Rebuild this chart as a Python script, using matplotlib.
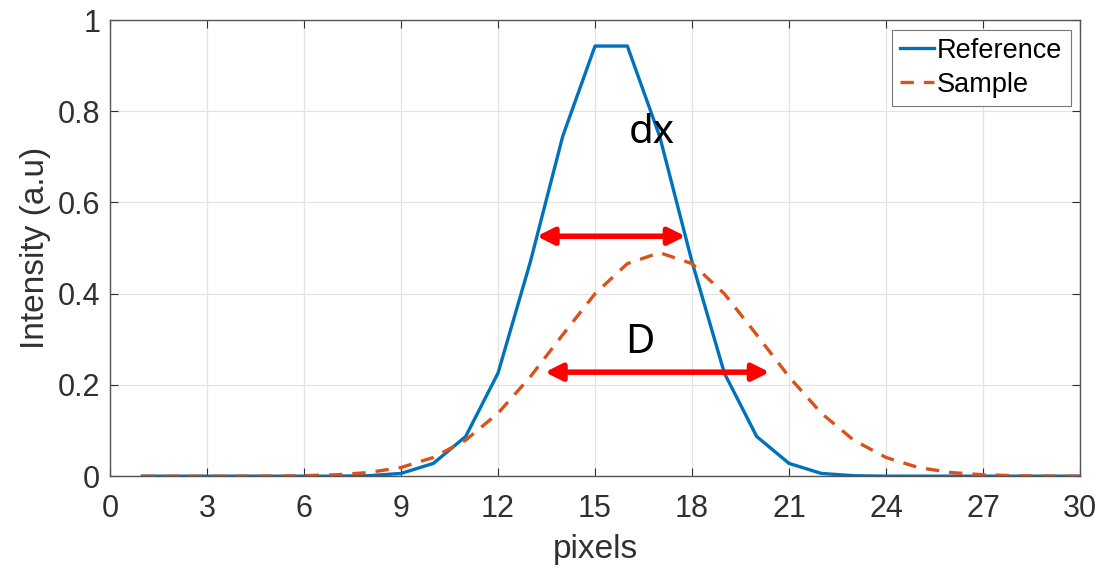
import matplotlib
matplotlib.use('Agg')
import matplotlib.pyplot as plt
from matplotlib.ticker import FormatStrFormatter

# pixel positions
pixels = list(range(1, 31))

# reference profile (narrow)
reference = [0.0, 0.0, 0.0, 0.0, 0.0, 0.0, 0.0, 0.001, 0.006, 0.028,
             0.087, 0.226, 0.47, 0.745, 0.943, 0.943, 0.745, 0.47, 0.226, 0.087,
             0.028, 0.006, 0.001, 0.0, 0.0, 0.0, 0.0, 0.0, 0.0, 0.0]

# sample profile (broadened, shifted)
sample = [0.0, 0.0, 0.0, 0.0, 0.0003, 0.0011, 0.003, 0.008, 0.019, 0.041,
          0.079, 0.138, 0.218, 0.31, 0.40, 0.466, 0.49, 0.466, 0.40, 0.31,
          0.218, 0.138, 0.079, 0.041, 0.019, 0.008, 0.003, 0.0011, 0.0003, 0.0]

xticks = list(range(0, 31, 3))
yticks = [0, 0.2, 0.4, 0.6, 0.8, 1.0]

# width markers (data coords)
dx_span = (13.2, 17.8, 0.526)
D_span = (13.45, 20.4, 0.228)

plt.rcParams['font.family'] = ['Liberation Sans', 'DejaVu Sans']

fig = plt.figure(figsize=(11.15, 5.73), dpi=100)
ax = fig.add_axes([0.0987, 0.169, 0.8699, 0.796])

ax.plot(pixels, reference, '-', color='#0072BD', lw=2.4, label='Reference')
ax.plot(pixels, sample, '--', color='#D95319', lw=2.4, dashes=(4, 3), label='Sample')

ax.set_xlim(0, 30)
ax.set_ylim(0, 1)
ax.set_xticks(xticks)
ax.set_yticks(yticks)
ax.yaxis.set_major_formatter(FormatStrFormatter('%g'))
ax.grid(True, color='#e3e3e3', lw=0.9)
ax.set_axisbelow(True)
ax.tick_params(direction='in', length=6, top=True, right=True,
               labelsize=22, colors='#303030')
ax.tick_params(axis='x', pad=13)
ax.tick_params(axis='y', pad=7)
for s in ax.spines.values():
    s.set_color('#555555')
    s.set_linewidth(1.0)

ax.set_xlabel('pixels', fontsize=24, color='#303030', labelpad=7)
ax.set_ylabel('Intensity (a.u)', fontsize=24, color='#303030', labelpad=5)

# arrows and labels
arrow = dict(arrowstyle='<|-|>', color='red', lw=4, mutation_scale=25,
             shrinkA=0, shrinkB=0)
ax.annotate('', xy=(dx_span[0], dx_span[2]), xytext=(dx_span[1], dx_span[2]),
            arrowprops=arrow)
ax.annotate('', xy=(D_span[0], D_span[2]), xytext=(D_span[1], D_span[2]),
            arrowprops=arrow)
ax.text(16.75, 0.753, 'dx', fontsize=29, family='Noto Sans',
        ha='center', va='center')
ax.text(16.4, 0.293, 'D', fontsize=29, family='Noto Sans',
        ha='center', va='center')

leg = ax.legend(loc='upper right', fontsize=19.5, handlelength=1.25,
                handletextpad=0.1, borderpad=0.3, labelspacing=0.3,
                fancybox=False, framealpha=1, borderaxespad=0.35)
leg.get_frame().set_edgecolor('#777777')
leg.get_frame().set_linewidth(0.8)

fig.savefig('out.png', dpi=100)
